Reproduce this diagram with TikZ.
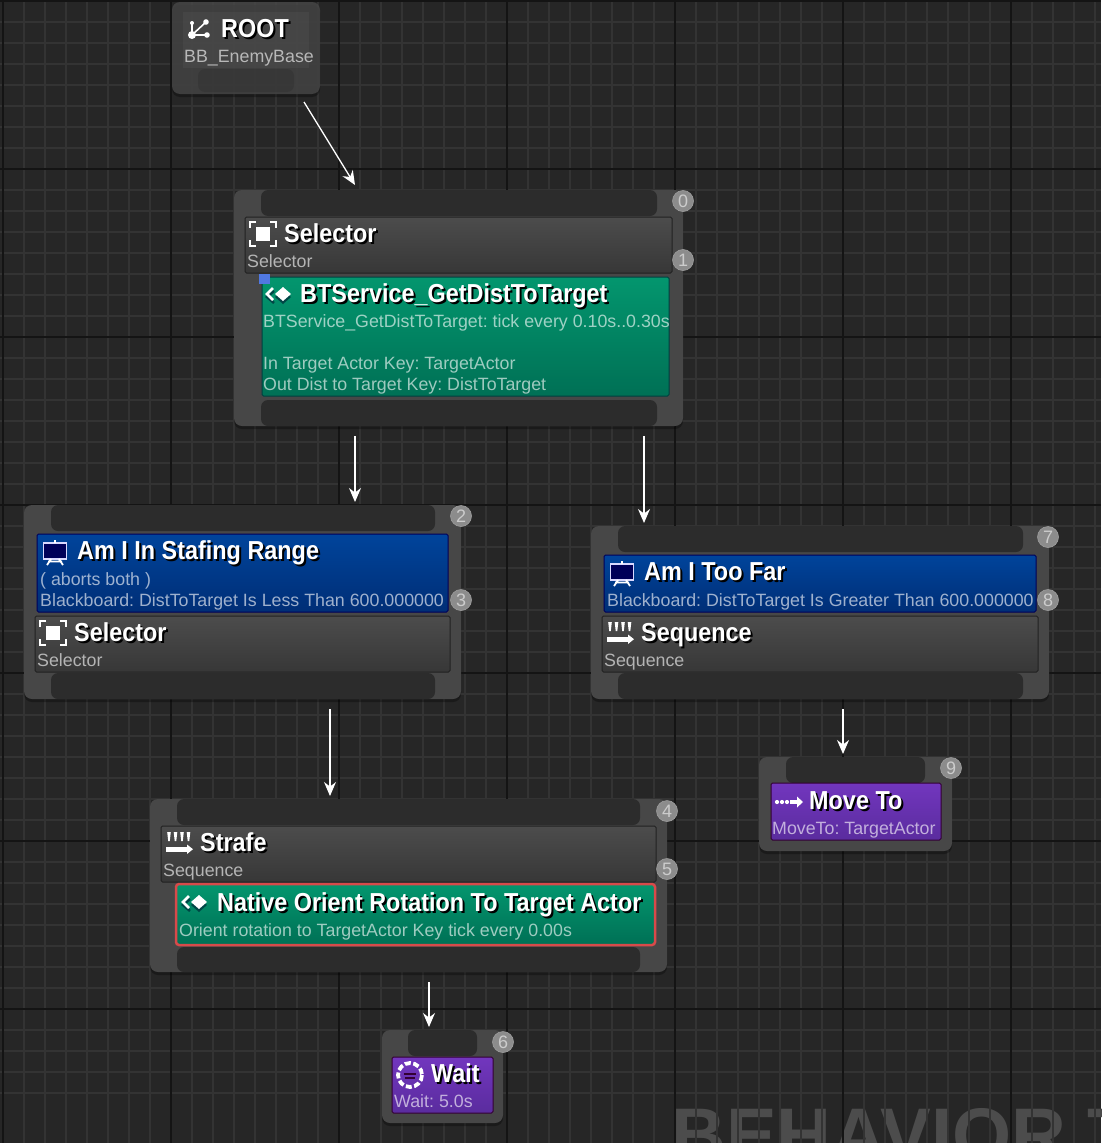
\documentclass[tikz,border=0pt]{standalone}
\usepackage{fontspec}
\usepackage{xcolor}
\usetikzlibrary{arrows.meta,fit,shadows}
\setmainfont{Liberation Sans}
\newfontfamily\headfont{Liberation Sans}[FakeStretch=0.9]
\definecolor{canvasbg}{HTML}{262626}
\definecolor{gridminor}{HTML}{333333}
\definecolor{gridmajor}{HTML}{141414}
\definecolor{cardgray}{HTML}{474747}
\definecolor{padgray}{HTML}{2C2C2C}
\definecolor{boxtop}{HTML}{4C4C4C}
\definecolor{boxbottom}{HTML}{373737}
\definecolor{boxedge}{HTML}{222222}
\newcommand{\shadowed}[1]{\rlap{\kern2pt\raisebox{-2pt}{\textcolor{black}{#1}}}#1}

\tikzset{
  rooticon/.pic={
    \draw[white, line width=1.6pt] (-8,6) -- (-8,-6) (-8,6) -- (6,-7) (-8,6) -- (7,6);
    \fill[white] (-8,6) circle (4) (6,-7) circle (2.8) (7,6) circle (2.8) (-8,-6) circle (2);
  },
  selicon/.pic={
    \fill[white] (-7,-7) rectangle (7,7);
    \draw[white, line width=1.6pt] (-7,-12) -- (-13,-12) -- (-13,-6) (7,-12) -- (13,-12) -- (13,-6)
      (-7,12) -- (-13,12) -- (-13,6) (7,12) -- (13,12) -- (13,6);
  },
  servicon/.pic={
    \draw[black!45!teal, line width=2.5pt] (-5,-3) -- (-12,3) -- (-5,9);
    \fill[black!45!teal] (4,-4) -- (12,3) -- (4,10) -- (-4,3) -- cycle;
    \draw[white, line width=2.5pt] (-6,-6) -- (-12,0) -- (-6,6);
    \fill[white] (4,-7) -- (12,0) -- (4,7) -- (-4,0) -- cycle;
  },
  seqicon/.pic={
    \foreach \bx in {-10,-3.5,3,9.5} {
      \fill[white] (\bx-1.8,-11) -- (\bx+1.8,-11) -- (\bx+.8,-2) -- (\bx-.8,-2) -- cycle;
    }
    \fill[white] (-13,4) rectangle (8,8.5);
    \fill[white] (8,1.5) -- (14,6.2) -- (8,11) -- cycle;
  },
  easelicon/.pic={
    \draw[white!85!blue, line width=1.1pt, fill=blue!35!black] (-11.5,-9) rectangle (11.5,7);
    \draw[white, line width=1.8pt] (0,-12) -- (0,-9) (-4,7) -- (-8,13) (4,7) -- (8,13) (-7,9.5) -- (7,9.5);
  },
  moveicon/.pic={
    \fill[white] (-12,0) circle (2.1) (-7,0) circle (2.1) (-2,0) circle (2.1);
    \fill[white] (1,-2) rectangle (8,2);
    \fill[white] (8,-5.5) -- (14,0) -- (8,5.5) -- cycle;
  },
  waiticon/.pic={
    \draw[white, line width=3.8pt, dash pattern=on 6pt off 2.5pt] (0,0) circle (12);
    \draw[black!60!violet, line width=1.6pt] (-6,-1) -- (6,-1) (-5,3) -- (5,3);
  },
}

\begin{document}
\frenchspacing
\begin{tikzpicture}[
  x=1pt, y=-1pt,
  card/.style={fill=cardgray, rounded corners=8pt, inner sep=0pt, outer sep=0pt,
               drop shadow={shadow xshift=0pt, shadow yshift=-3pt, opacity=.3, fill=black}},
  pad/.style={fill=padgray, rounded corners=7pt, inner sep=0pt, outer sep=0pt},
  graybox/.style={draw=boxedge, line width=1pt, rounded corners=1.5pt, top color=boxtop, bottom color=boxbottom, inner sep=0pt, outer sep=0pt},
  bluebox/.style={graybox, draw=black!65!blue, top color={rgb,255:red,0;green,68;blue,155}, bottom color={rgb,255:red,0;green,46;blue,118}},
  greenbox/.style={graybox, draw=black!50!teal, top color={rgb,255:red,3;green,150;blue,110}, bottom color={rgb,255:red,0;green,112;blue,85}},
  purplebox/.style={graybox, draw=black!60!violet, top color={rgb,255:red,114;green,54;blue,190}, bottom color={rgb,255:red,90;green,44;blue,158}},
  headtext/.style={anchor=base west, inner sep=0pt, text=white, font=\headfont\bfseries\fontsize{26}{26}\selectfont},
  subtext/.style={anchor=base west, inner sep=0pt, text=white, text opacity=.62, font=\fontsize{17.8}{18}\selectfont},
  badge/.style={circle, fill=white!55!black, draw=white!62!black, line width=.6pt, minimum size=21pt, inner sep=0pt,
                text=white!80!black, font=\fontsize{18}{18}\selectfont},
  arr/.style={-{Stealth[length=14pt,width=12pt]}, white, line width=1.3pt},
]
\useasboundingbox (0,0) rectangle (1101,1143);
\clip (0,0) rectangle (1101,1143);
\fill[canvasbg] (0,0) rectangle (1101,1143);
% Watermark under the grid
\node[anchor=base west, inner sep=0pt, text=white!30!black, font=\bfseries\fontsize{76}{76}\selectfont] (mark) at (671,1161.5) {BEHAVIOR T};
% Grid
\foreach \i in {0,...,52} {
  \draw[gridminor, line width=1.5pt] (3+21*\i,0) -- (3+21*\i,1143);
  \draw[gridminor, line width=1.5pt] (0,1+21*\i) -- (1101,1+21*\i);
}
\foreach \i in {0,...,6} {
  \draw[gridmajor, line width=1.3pt] (3+168*\i,0) -- (3+168*\i,1143);
  \draw[gridmajor, line width=1.3pt] (0,1+168*\i) -- (1101,1+168*\i);
}

% Cards
\node[card, fill opacity=.8, fit={(172,2) (320,94)}] (root) {};
\foreach \n/\xa/\ya/\xb/\yb in {sel/234/190/683/426, range/24/505/461/699, far/591/526/1049/699,
    strafe/150/799/667/972, move/759/757/952/851, wait/382/1030/503/1123} {
  \node[card, fit={(\xa,\ya) (\xb,\yb)}] (\n) {};
}
% Pads
\node[pad, fill opacity=.35, fit={(198,69) (294,92)}] (roottop) {};
\foreach \n/\xa/\ya/\xb/\yb in {seltop/261/190/657/216, selbot/261/400/657/426,
    rangetop/51/505/435/531, rangebot/51/673/435/699, fartop/618/526/1023/552, farbot/618/673/1023/699,
    strafetop/177/799/640/825, strafebot/177/947/640/972, movetop/786/757/925/783, waittop/408/1030/477/1056} {
  \node[pad, fit={(\xa,\ya) (\xb,\yb)}] (\n) {};
}
% Title boxes
\node[fill=white, fill opacity=.04, inner sep=0pt, fit={(183,12) (309,68)}] (rootbox) {};
\foreach \n/\kind/\xa/\ya/\xb/\yb in {selbox/graybox/245/217/672/273, servbox/greenbox/262/277/669/396,
    rangebox/bluebox/37/534/448/612, rselbox/graybox/35/616/450/672, farbox/bluebox/604/555/1036/612,
    seqbox/graybox/602/616/1038/672, strafebox/graybox/161/826/656/882, movebox/purplebox/771/783/941/840,
    waitbox/purplebox/392/1057/493/1113} {
  \node[\kind, fit={(\xa,\ya) (\xb,\yb)}] (\n) {};
}
\node[greenbox, draw={rgb,255:red,216;green,74;blue,74}, line width=2.5pt, rounded corners=3pt, fit={(176,884) (655,945)}] (orientbox) {};
\node[fill={rgb,255:red,80;green,120;blue,225}, inner sep=0pt, fit={(259,274) (270,284)}] (breakpt) {};

% Icons
\pic at (200,29) {rooticon};
\pic at (263,234) {selicon};
\pic at (53,633) {selicon};
\pic at (279,294) {servicon};
\pic at (195,902) {servicon};
\pic at (55,552) {easelicon};
\pic at (622,573) {easelicon};
\pic at (620,633) {seqicon};
\pic at (179,843) {seqicon};
\pic at (789,802) {moveicon};
\pic at (410,1075) {waiticon};

% Titles
\foreach \n/\x/\y/\txt in {roothead/221/37/ROOT, selhead/284/242/Selector, servhead/300/302/BTService\_GetDistToTarget,
    rangehead/77/559/Am I In Stafing Range, rselhead/74/641/Selector, farhead/644/580/Am I Too Far,
    seqhead/641/641/Sequence, strafehead/200/851/Strafe, orienthead/217/911/Native Orient Rotation To Target Actor,
    movehead/809/809/Move To, waithead/431/1082/Wait} {
  \node[headtext] (\n) at (\x,\y) {\shadowed{\txt}};
}
% Descriptions
\foreach \n/\x/\y/\txt in {rootsub/184/62/BB\_EnemyBase, selsub/247/267/Selector,
    servsuba/263/327/BTService\_GetDistToTarget: tick every 0.10s..0.30s,
    servsubb/263/369/In Target Actor Key: TargetActor, servsubc/263/390/Out Dist to Target Key: DistToTarget,
    rangesuba/40/585/( aborts both ), rangesubb/40/606/Blackboard: DistToTarget Is Less Than 600.000000,
    rselsub/37/666/Selector, farsub/607/606/Blackboard: DistToTarget Is Greater Than 600.000000,
    seqsub/604/666/Sequence, strafesub/163/876/Sequence, orientsub/179/936/Orient rotation to TargetActor Key tick every 0.00s,
    movesub/772/834/MoveTo: TargetActor, waitsub/394/1107/Wait: 5.0s} {
  \node[subtext] (\n) at (\x,\y) {\txt};
}

% Execution order
\foreach \i/\x/\y in {0/683/201, 1/683/260, 2/461/516, 3/461/600, 4/667/811, 5/667/869, 6/503/1042, 7/1048/537, 8/1048/600, 9/951/768} {
  \node[badge] (order\i) at (\x,\y) {\i};
}

% Links
\foreach \a/\ax/\ay/\b/\bx/\by in {root/132/-8/sel/121/5, sel/121/-10/range/331/3, sel/410/-10/far/53/3,
    range/306/-10/strafe/180/3, far/252/-10/move/84/3, strafe/279/-10/wait/47/3} {
  \draw[arr] ([xshift=\ax pt, yshift=\ay pt]\a.south west) -- ([xshift=\bx pt, yshift=\by pt]\b.north west);
}
\end{tikzpicture}
\end{document}
